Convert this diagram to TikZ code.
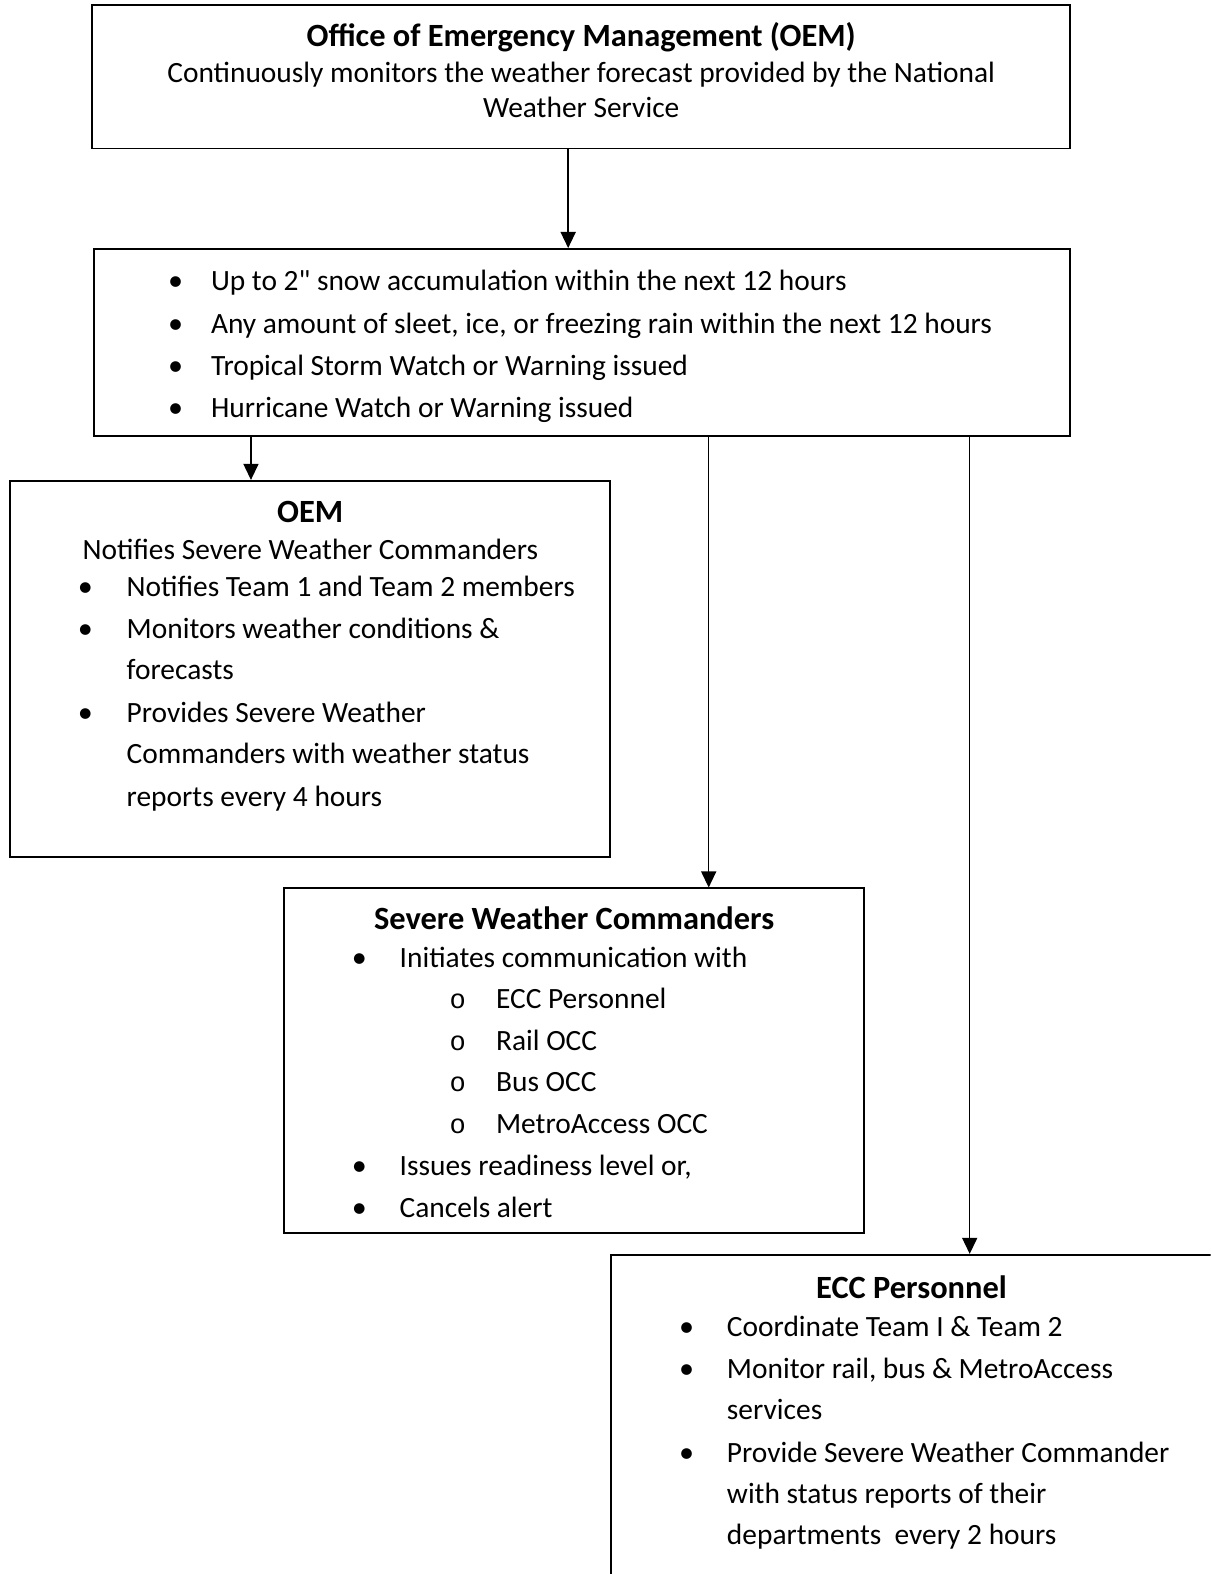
\documentclass[tikz,border=0pt]{standalone}
\usepackage{fontspec}
\setmainfont{Carlito}[Ligatures=TeXOff]
\newfontfamily\monof{Liberation Mono}
\usetikzlibrary{arrows.meta}
\begin{document}
\begin{tikzpicture}[x=1pt,y=-1pt,
  box/.style={draw, line width=1.8pt, inner sep=0pt, rectangle},
  arr/.style={line width=1.4pt, -{Triangle[width=15pt,length=16pt]}},
  txt/.style={font=\fontsize{29.3}{35}\selectfont, inner sep=0pt, anchor=base west},
  ctxt/.style={txt, anchor=base},
  ttl/.style={font=\fontsize{32.3}{38}\selectfont\bfseries, inner sep=0pt, anchor=base},
  bul/.style={font=\fontsize{30}{35}\selectfont, inner sep=0pt, anchor=base},
  sub/.style={font=\fontsize{27}{35}\monof, inner sep=0pt, anchor=base}]
\useasboundingbox (0,0) rectangle (1206,1568);
\clip (0,0) rectangle (1206,1568);
% boxes
\node[box, minimum width=974pt, minimum height=143pt] (b1) at (579,76.5) {};
\node[box, minimum width=972pt, minimum height=186pt] (b2) at (580,341) {};
\node[box, minimum width=598pt, minimum height=375pt] (b3) at (309,666.5) {};
\node[box, minimum width=578pt, minimum height=343pt] (b4) at (572,1056.5) {};
\node[box, minimum width=631pt, minimum height=350pt] (b5) at (924.5,1425) {};
% connector columns
\coordinate (c1) at (566,0);
\coordinate (c2) at (250,0);
\coordinate (c3) at (706,0);
\coordinate (c4) at (966,0);
\draw[arr] (b1.south -| c1) -- (b2.north -| c1);
\draw[arr] (b2.south -| c2) -- (b3.north -| c2);
\draw[arr] (b2.south -| c3) -- (b4.north -| c3);
\draw[arr] (b2.south -| c4) -- (b5.north -| c4);
% box 1
\node[ttl] (t1) at (579,46) {Office of Emergency Management (OEM)};
\node[ctxt] (t1a) at (579,82) {Continuously monitors the weather forecast provided by the National};
\node[ctxt] (t1b) at (579,117) {Weather Service};
% box 2
\node[bul] (d2a) at (175,289) {•};
\node[txt] (t2a) at (210,289) {Up to 2" snow accumulation within the next 12 hours};
\node[bul] (d2b) at (175,332) {•};
\node[txt] (t2b) at (210,332) {Any amount of sleet, ice, or freezing rain within the next 12 hours};
\node[bul] (d2c) at (175,374) {•};
\node[txt] (t2c) at (210,374) {Tropical Storm Watch or Warning issued};
\node[bul] (d2d) at (175,416) {•};
\node[txt] (t2d) at (210,416) {Hurricane Watch or Warning issued};
% box 3
\node[ttl] (t3) at (309,521) {OEM};
\node[txt] (t3a) at (82,557) {Notifies Severe Weather Commanders};
\node[bul] (d3b) at (85,594) {•};
\node[txt] (t3b) at (126,594) {Notifies Team 1 and Team 2 members};
\node[bul] (d3c) at (85,636) {•};
\node[txt] (t3c) at (126,636) {Monitors weather conditions \&};
\node[txt] (t3d) at (126,677) {forecasts};
\node[bul] (d3e) at (85,720) {•};
\node[txt] (t3e) at (126,720) {Provides Severe Weather};
\node[txt] (t3f) at (126,761) {Commanders with weather status};
\node[txt] (t3g) at (126,803) {reports every 4 hours};
% box 4
\node[ttl] (t4) at (572,926) {Severe Weather Commanders};
\node[bul] (d4a) at (358,964) {•};
\node[txt] (t4a) at (398,964) {Initiates communication with};
\node[sub] (o4b) at (456,1005) {o};
\node[txt] (t4b) at (494,1005) {ECC Personnel};
\node[sub] (o4c) at (456,1046) {o};
\node[txt] (t4c) at (494,1046) {Rail OCC};
\node[sub] (o4d) at (456,1087) {o};
\node[txt] (t4d) at (494,1087) {Bus OCC};
\node[sub] (o4e) at (456,1129) {o};
\node[txt] (t4e) at (494,1129) {MetroAccess OCC};
\node[bul] (d4f) at (358,1171) {•};
\node[txt] (t4f) at (398,1171) {Issues readiness level or,};
\node[bul] (d4g) at (358,1213) {•};
\node[txt] (t4g) at (398,1213) {Cancels alert};
% box 5
\node[ttl] (t5) at (908,1294) {ECC Personnel};
\node[bul] (d5a) at (684,1331) {•};
\node[txt] (t5a) at (724,1331) {Coordinate Team I \& Team 2};
\node[bul] (d5b) at (684,1373) {•};
\node[txt] (t5b) at (724,1373) {Monitor rail, bus \& MetroAccess};
\node[txt] (t5c) at (724,1414) {services};
\node[bul] (d5d) at (684,1457) {•};
\node[txt] (t5d) at (724,1457) {Provide Severe Weather Commander};
\node[txt] (t5e) at (724,1498) {with status reports of their};
\node[txt] (t5f) at (724,1539) {departments\ \ every 2 hours};
\end{tikzpicture}
\end{document}
